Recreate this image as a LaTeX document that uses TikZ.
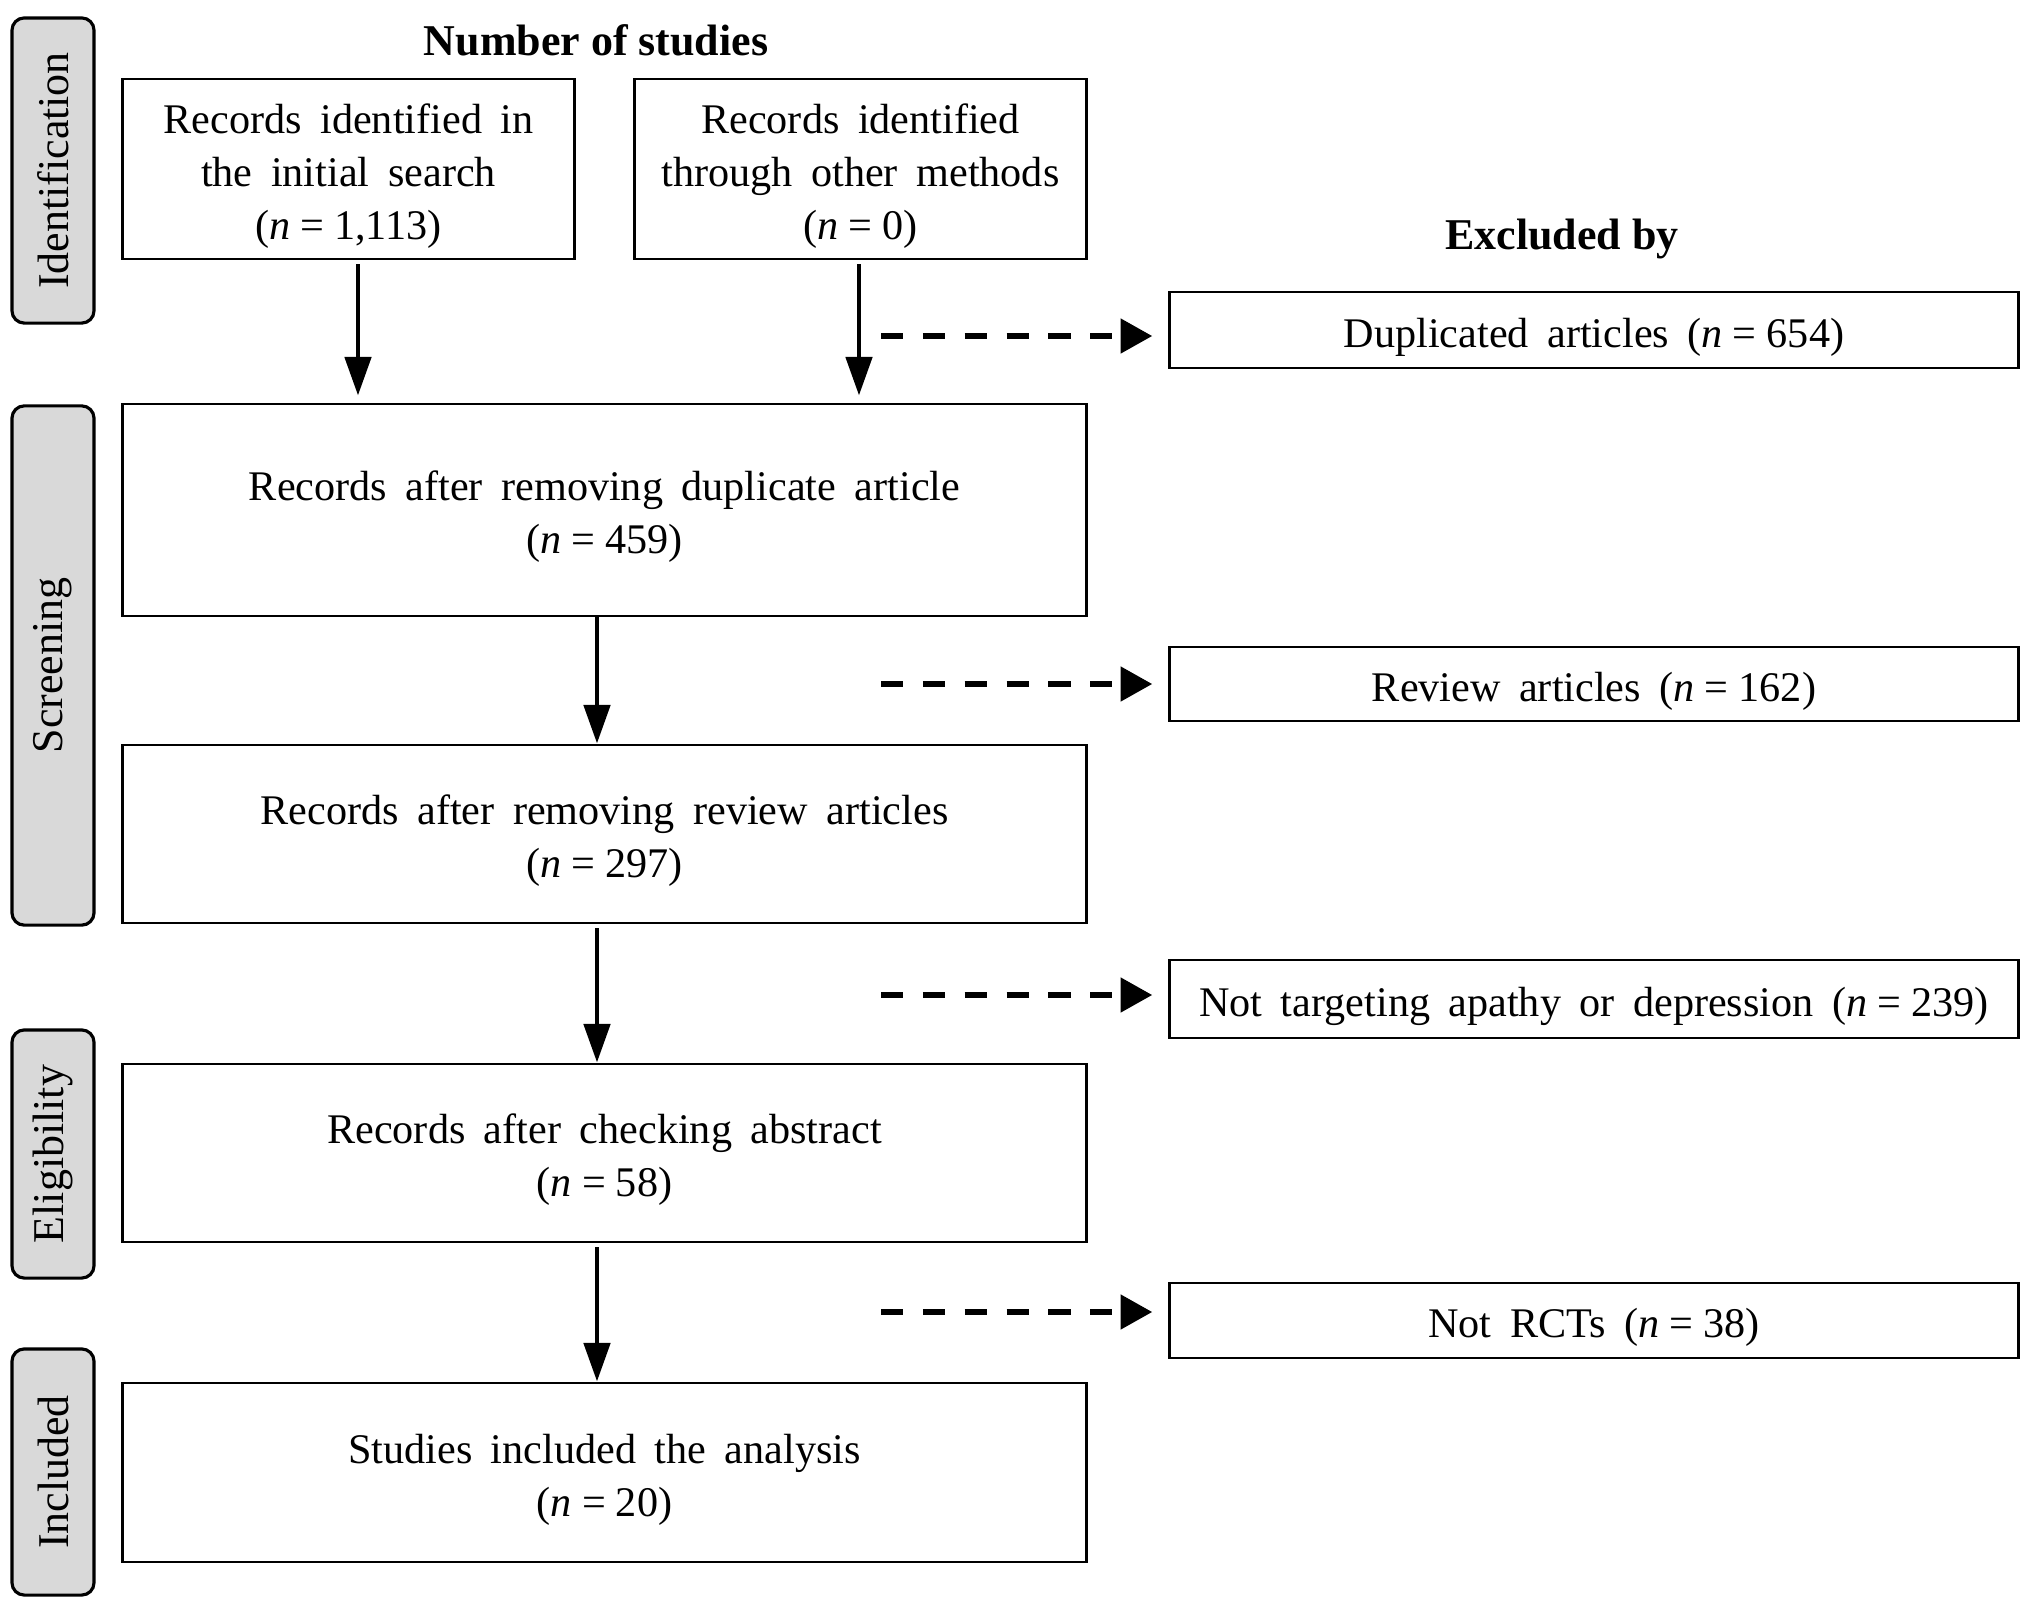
\documentclass[tikz,border=0pt]{standalone}
\usepackage{fontspec}
\setmainfont{Liberation Serif}[WordSpace=1.75]
\usetikzlibrary{arrows.meta}
\definecolor{tabgray}{HTML}{D9D9D9}
\newcommand{\nn}[1]{(\textit{n}\hspace{.24em}=\hspace{.24em}#1)}
\newcommand{\tp}{\rule{0pt}{12.4pt}}
\newcommand{\hsp}{\hspace{.25em}}
\tikzset{
  box/.style={draw=black, line width=0.8pt, fill=white, align=center, inner sep=0pt,
    font=\fontsize{12}{15}\selectfont},
  tab/.style={draw=black, line width=0.9pt, fill=tabgray, rounded corners=3.5pt,
    inner sep=0pt, font=\fontsize{12.5}{15}\selectfont},
  tabtext/.style={rotate=90, font=\fontsize{12.5}{15}\selectfont},
  flow/.style={line width=1.4pt, -{Triangle[length=11pt,width=7.4pt]}},
  excl/.style={line width=1.8pt, dash pattern=on 6.3pt off 5.6pt,
    -{Triangle[length=9pt,width=9.5pt]}},
  head/.style={font=\fontsize{12.5}{15}\selectfont\bfseries}
}
\begin{document}
\begin{tikzpicture}[x=0.01cm,y=-0.01cm]
\useasboundingbox (0,0) rectangle (2032,1611);
% stage tabs
\node[tab, minimum width=0.82cm, minimum height=3.05cm] (tid) at (53,170.5) {};
\node[tabtext] (tidt) at (tid.center) {Identification};
\node[tab, minimum width=0.82cm, minimum height=5.19cm] (tsc) at (53,665.5) {};
\node[tabtext] (tsct) at (tsc.center) {Screening};
\node[tab, minimum width=0.82cm, minimum height=2.48cm] (tel) at (53,1154) {};
\node[tabtext] (telt) at (tel.center) {Eligibility};
\node[tab, minimum width=0.82cm, minimum height=2.46cm] (tin) at (53,1472) {};
\node[tabtext] (tint) at (tin.center) {Included};
% headings
\node[head] (hnum) at (596,40) {Number\hsp of\hsp studies};
\node[head] (hexc) at (1562,239) {Excluded\hsp by};
% main boxes
\node[box, minimum width=4.51cm, minimum height=1.80cm] (b1) at (348.5,169) {\tp Records identified in\\the initial search\\\nn{1,113}};
\node[box, minimum width=4.51cm, minimum height=1.80cm] (b2) at (860.5,169) {\tp Records identified\\through other methods\\\nn{0}};
\node[box, minimum width=9.63cm, minimum height=2.12cm] (b3) at (604.5,510) {\tp Records after removing duplicate article\\\nn{459}};
\node[box, minimum width=9.63cm, minimum height=1.78cm] (b4) at (604.5,834) {\tp Records after removing review articles\\\nn{297}};
\node[box, minimum width=9.63cm, minimum height=1.78cm] (b5) at (604.5,1153) {\tp Records after checking abstract\\\nn{58}};
\node[box, minimum width=9.63cm, minimum height=1.79cm] (b6) at (604.5,1472.5) {\tp Studies included the analysis\\\nn{20}};
% exclusion boxes
\node[box, minimum width=8.48cm, minimum height=0.76cm] (e1) at (1594,330) {\tp Duplicated articles \nn{654}};
\node[box, minimum width=8.48cm, minimum height=0.74cm] (e2) at (1594,684) {\tp Review articles \nn{162}};
\node[box, minimum width=8.48cm, minimum height=0.78cm] (e3) at (1594,999) {\tp Not targeting apathy or depression \nn{239}};
\node[box, minimum width=8.48cm, minimum height=0.75cm] (e4) at (1594,1320.5) {\tp Not RCTs \nn{38}};
% solid flow arrows
\draw[flow] (b1.south -| 358,0) ++(0,4) -- ([yshift=0.07cm]b3.north -| 358,0);
\draw[flow] (b2.south -| 859,0) ++(0,4) -- ([yshift=0.07cm]b3.north -| 859,0);
\draw[flow] (b3.south -| 597,0) -- (b4.north -| 597,0);
\draw[flow] (b4.south -| 597,0) ++(0,4) -- (b5.north -| 597,0);
\draw[flow] (b5.south -| 597,0) ++(0,4) -- (b6.north -| 597,0);
% dashed exclusion arrows
\coordinate (d1) at (881,336);
\coordinate (d2) at (881,684);
\coordinate (d3) at (881,995);
\coordinate (d4) at (881,1312);
\draw[excl] (d1) -- ([xshift=-0.16cm]e1.west |- d1);
\draw[excl] (d2) -- ([xshift=-0.16cm]e2.west |- d2);
\draw[excl] (d3) -- ([xshift=-0.16cm]e3.west |- d3);
\draw[excl] (d4) -- ([xshift=-0.16cm]e4.west |- d4);
\end{tikzpicture}
\end{document}
